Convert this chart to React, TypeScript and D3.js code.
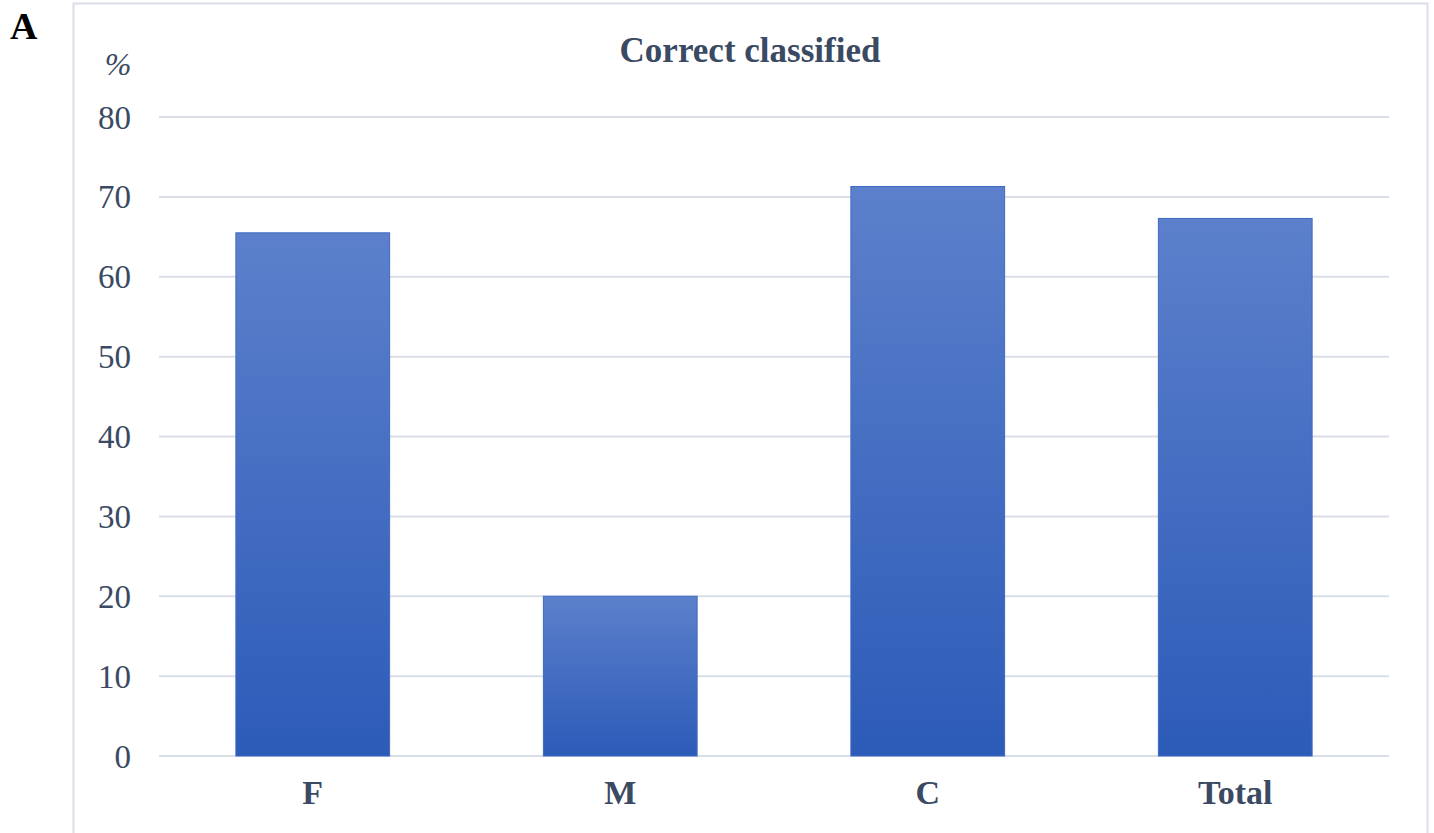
import React from "react";
import * as d3 from "d3";

const categories = ["F", "M", "C", "Total"];
const values = [65.5, 20.0, 71.3, 67.3];
const yTicks = [0, 10, 20, 30, 40, 50, 60, 70, 80];
const title = "Correct classified";

export default function App() {
  const W = 1434, H = 833;
  const x = d3.scaleBand<string>().domain(categories).range([159, 1389]).paddingInner(0.5).paddingOuter(0.25);
  const y = d3.scaleLinear().domain([0, 80]).range([756, 117]);
  const textColor = "#3b4a63";
  const font = "'Liberation Serif', 'Times New Roman', serif";
  return (
    <svg width={W} height={H} style={{ position: "absolute", left: 0, top: 0, background: "#fff" }} fontFamily={font}>
      <defs>
        <linearGradient id="barGrad" x1="0" y1="0" x2="0" y2="1">
          <stop offset="0%" stopColor="#5c80cb" />
          <stop offset="100%" stopColor="#2c5bb8" />
        </linearGradient>
      </defs>
      <rect x={73.5} y={3.5} width={1354} height={H + 10} fill="#fff" stroke="#d9dee7" strokeWidth={2} />
      <text x={10} y={39} fontSize={38} fontWeight="bold" fill="#000">A</text>
      <text x={750} y={62} fontSize={35} fontWeight="bold" fill={textColor} textAnchor="middle">{title}</text>
      <text x={118} y={75} fontSize={32} fontStyle="italic" fill={textColor} textAnchor="middle">%</text>
      {yTicks.map((t) => (
        <g key={t}>
          <line x1={159} x2={1389} y1={y(t)} y2={y(t)} stroke="#d9dee7" strokeWidth={2} />
          <text x={131} y={y(t)} dy="0.35em" fontSize={33} fill={textColor} textAnchor="end">{t}</text>
        </g>
      ))}
      {categories.map((c, i) => (
        <g key={c}>
          <rect x={x(c)} y={y(values[i])} width={x.bandwidth()} height={y(0) - y(values[i])} fill="url(#barGrad)" stroke="#3f69c2" strokeWidth={1} />
          <text x={(x(c) as number) + x.bandwidth() / 2} y={804} fontSize={34} fontWeight="bold" fill={textColor} textAnchor="middle">{c}</text>
        </g>
      ))}
    </svg>
  );
}
